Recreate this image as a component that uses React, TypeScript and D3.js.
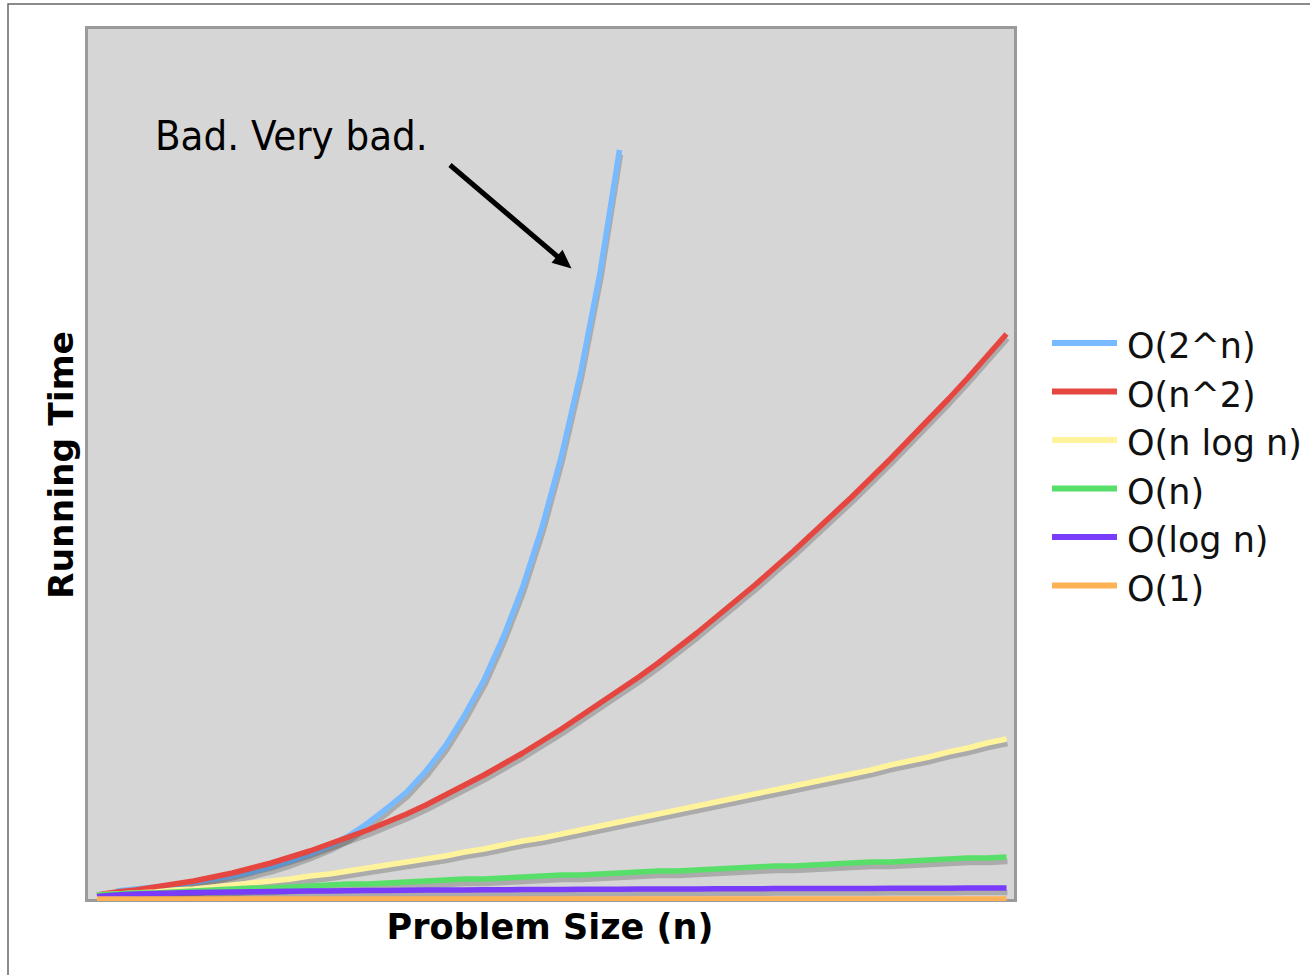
import React from 'react';
import * as d3 from 'd3';

const problemSizes = [1, 2, 3, 4, 5, 6, 7, 8, 9, 10, 11, 12, 13, 14, 15, 16, 17, 18, 19, 20, 21, 22, 23, 24,
  25, 26, 27, 28, 29, 30, 31, 32, 33, 34, 35, 36, 37, 38, 39, 40, 41, 42, 43, 44, 45, 46, 47, 48];

const exponential = [null, 9, 11, 13, 15, 18, 21, 24, 28, 33, 39, 46, 54, 64, 77, 92, 108, 129, 154, 185, 220, 263,
  313, 373, 444, 528, 628, 750];
const quadratic = [5, 8, 10, 13, 16, 19, 23, 27, 32, 37, 43, 49, 56, 63, 70, 78, 86, 95, 105, 115, 125, 136, 147, 159,
  171, 184, 197, 210, 223, 237, 252, 267, 283, 299, 315, 332, 349, 367, 385, 403, 422, 441, 461, 481, 501, 522, 544, 566];
const linearithmic = [5, 6, 7, 8, 10, 11, 13, 15, 17, 19, 21, 24, 26, 29, 32, 35, 38, 41, 44, 48, 51, 55, 59, 62,
  66, 70, 74, 78, 82, 86, 90, 94, 98, 102, 106, 110, 114, 118, 122, 126, 130, 135, 139, 143, 148, 152, 157, 161];
const linear = [5, 6, 7, 7, 8, 9, 10, 11, 12, 12, 13, 14, 15, 16, 16, 17, 18, 19, 20, 21, 21, 22, 23, 24,
  25, 25, 26, 27, 28, 29, 29, 30, 31, 32, 33, 34, 34, 35, 36, 37, 38, 38, 39, 40, 41, 42, 42, 43];
const logarithmic = [3.5, 5, 6, 6.5, 7, 7.4, 7.8, 8.1, 8.3, 8.6, 8.8, 9, 9.1, 9.3, 9.5, 9.6, 9.7, 9.9, 10, 10.1,
  10.2, 10.3, 10.4, 10.5, 10.6, 10.7, 10.7, 10.8, 10.9, 11, 11, 11.1, 11.2, 11.2, 11.3, 11.4, 11.4, 11.5, 11.5, 11.6,
  11.6, 11.7, 11.7, 11.8, 11.8, 11.9, 11.9, 12];
const constant = [1, 1, 1, 1, 1, 1, 1, 1, 1, 1, 1, 1, 1, 1, 1, 1, 1, 1, 1, 1, 1, 1, 1, 1,
  1, 1, 1, 1, 1, 1, 1, 1, 1, 1, 1, 1, 1, 1, 1, 1, 1, 1, 1, 1, 1, 1, 1, 1];

const seriesNames = ['O(2^n)', 'O(n^2)', 'O(n log n)', 'O(n)', 'O(log n)', 'O(1)'];
const seriesValues = [exponential, quadratic, linearithmic, linear, logarithmic, constant];
const seriesColors = ['#77baff', '#e5463f', '#fff39c', '#57df69', '#7a3cfb', '#fdb255'];

const xTitle = 'Problem Size (n)';
const yTitle = 'Running Time';
const annotation = 'Bad. Very bad.';

export default function App() {
  const W = 1310;
  const H = 975;
  const plot = { x0: 86.5, y0: 27.5, x1: 1015.5, y1: 900.5 };
  const x = d3.scaleLinear().domain([1, 48]).range([97, 1006.5]);
  const y = d3.scaleLinear().domain([0, 872]).range([900, 28]);
  const line = d3
    .line<number | null>()
    .defined((d) => d !== null)
    .x((_, i) => x(problemSizes[i]))
    .y((d) => y(d as number));

  const lw = 5.5;
  const legendTop = 343;
  const legendStep = 48.5;

  // arrow geometry (annotation)
  const ax0 = 450, ay0 = 165, ax1 = 571.5, ay1 = 268.5;
  const dx = ax1 - ax0, dy = ay1 - ay0;
  const len = Math.hypot(dx, dy);
  const ux = dx / len, uy = dy / len;
  const headL = 19, headW = 8.5;
  const bx = ax1 - ux * headL, by = ay1 - uy * headL;
  const head = `${ax1},${ay1} ${bx - uy * headW},${by + ux * headW} ${bx + uy * headW},${by - ux * headW}`;

  return (
    <svg
      width={W}
      height={H}
      style={{ position: 'absolute', left: 0, top: 0, background: '#ffffff' }}
      fontFamily="'DejaVu Sans', Verdana, sans-serif"
    >
      <rect x={0} y={0} width={W} height={H} fill="#ffffff" />
      <path d={`M8,${H} V4 H${W}`} fill="none" stroke="#666" strokeWidth={1.5} />
      <rect
        x={plot.x0}
        y={plot.y0}
        width={plot.x1 - plot.x0}
        height={plot.y1 - plot.y0}
        fill="#d6d6d6"
        stroke="#9a9a9a"
        strokeWidth={3}
      />
      <defs>
        <clipPath id="plotClip">
          <rect x={88} y={29} width={926} height={872} />
        </clipPath>
      </defs>
      <g clipPath="url(#plotClip)">
        {seriesValues.map((vals, si) => (
          <g key={seriesNames[si]}>
            <path
              d={line(vals as (number | null)[]) || ''}
              transform="translate(1,4.5)"
              fill="none"
              stroke="rgba(0,0,0,0.2)"
              strokeWidth={lw}
              strokeLinejoin="round"
            />
            <path
              d={line(vals as (number | null)[]) || ''}
              fill="none"
              stroke={seriesColors[si]}
              strokeWidth={lw}
              strokeLinejoin="round"
            />
          </g>
        ))}
      </g>

      {seriesNames.map((name, i) => {
        const cy = legendTop + i * legendStep;
        return (
          <g key={name}>
            <line x1={1052} x2={1117} y1={cy} y2={cy} stroke={seriesColors[i]} strokeWidth={6} />
            <text x={1127} y={cy + 15} fontSize={35} fill="#111">
              {name}
            </text>
          </g>
        );
      })}

      <text x={550} y={939} textAnchor="middle" fontSize={35} fontWeight="bold" fill="#000">
        {xTitle}
      </text>
      <text
        transform="translate(73,465) rotate(-90)"
        textAnchor="middle"
        fontSize={34.5}
        fontWeight="bold"
        fill="#000"
      >
        {yTitle}
      </text>

      <text
        x={155}
        y={150}
        fontSize={41.5}
        fontFamily="'DejaVu Sans Condensed', 'DejaVu Sans', sans-serif"
        fontStretch="condensed"
        fill="#000"
      >
        {annotation}
      </text>
      <line x1={ax0} y1={ay0} x2={bx + ux * 2} y2={by + uy * 2} stroke="#000" strokeWidth={5} />
      <polygon points={head} fill="#000" />
    </svg>
  );
}
